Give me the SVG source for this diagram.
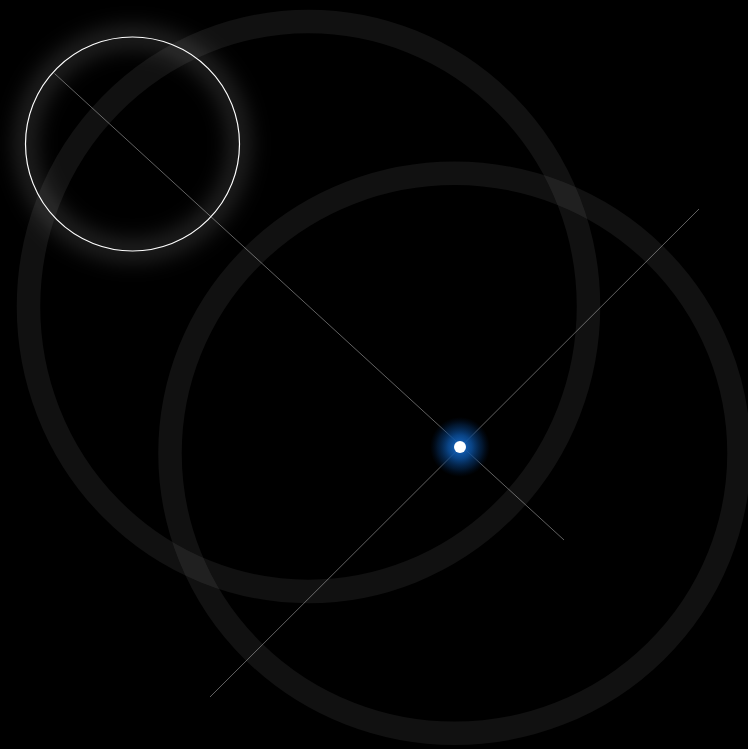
<svg xmlns="http://www.w3.org/2000/svg" width="748" height="749" viewBox="0 0 748 749">
  <style>
    .ring { fill: none; stroke: #ffffff; stroke-opacity: 0.066; stroke-width: 23.5; }
    .ray { stroke: #ffffff; stroke-opacity: 0.38; stroke-width: 1; }
  </style>
  <defs>
    <filter id="glow" x="-50%" y="-50%" width="200%" height="200%">
      <feGaussianBlur stdDeviation="11"/>
    </filter>
    <radialGradient id="blueGlow">
      <stop offset="0" stop-color="#1a6fd0" stop-opacity="1"/>
      <stop offset="0.4" stop-color="#0b4f9c" stop-opacity="0.85"/>
      <stop offset="0.75" stop-color="#063a78" stop-opacity="0.4"/>
      <stop offset="1" stop-color="#002050" stop-opacity="0"/>
    </radialGradient>
  </defs>
  <rect width="748" height="749" fill="#000000"/>
  <g id="ring-a"><ellipse class="ring" cx="308.5" cy="306.5" rx="280" ry="285"/></g>
  <g id="ring-b"><ellipse class="ring" cx="454.5" cy="453.3" rx="284.5" ry="280"/></g>
  <g id="connectors">
    <line class="ray" x1="54.5" y1="73.5" x2="564" y2="540"/>
    <line class="ray" x1="210" y1="697" x2="699" y2="209"/>
  </g>
  <g id="lens">
    <circle cx="132.5" cy="144" r="107" fill="none" stroke="#ffffff" stroke-opacity="0.16" stroke-width="18" filter="url(#glow)"/>
    <circle cx="132.5" cy="144" r="107" fill="none" stroke="#ffffff" stroke-width="1.2"/>
  </g>
  <g id="focus">
    <circle cx="460" cy="447" r="30" fill="url(#blueGlow)"/>
    <circle cx="460" cy="447" r="6" fill="#ffffff"/>
  </g>
</svg>
